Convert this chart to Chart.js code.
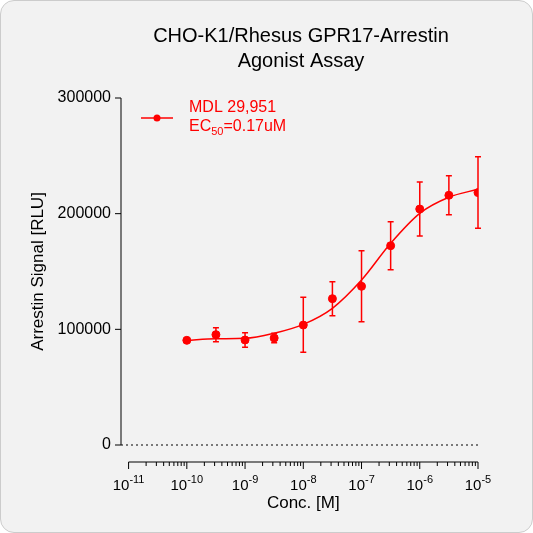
<!DOCTYPE html>
<html><head><meta charset="utf-8">
<script src="https://cdn.jsdelivr.net/npm/chart.js@4/dist/chart.umd.min.js"></script>
<style>
html,body{margin:0;padding:0;background:#fff;}
#wrap{width:531px;height:531px;border:1px solid #ccc;border-radius:14px;background:#f2f2f2;overflow:hidden;}
</style></head><body>
<div id="wrap"><canvas id="chart" width="531" height="531"></canvas></div>
<script>
// log10 concentration (M)
const logConc = [-10, -9.5, -9, -8.5, -8, -7.5, -7, -6.5, -6, -5.5, -5];
const signal = [90500, 95400, 90800, 92500, 103700, 126500, 137200, 172300, 204000, 215900, 218200];
const errHi = [90500, 101400, 97100, 96600, 127700, 141200, 168000, 193100, 227400, 232800, 249300];
const errLo = [90500, 89300, 84500, 88400, 80100, 111800, 106600, 151600, 180700, 199100, 187400];
// fitted curve
const curveX = [-10, -9.5, -9, -8.5, -8, -7.5, -7, -6.5, -6, -5.5, -5];
const curveY = [90500, 91900, 92200, 96600, 104300, 118200, 142600, 174400, 200300, 214200, 221100];
const yTicks = [0, 100000, 200000, 300000];
const xTicks = [-11, -10, -9, -8, -7, -6, -5];
const red = '#ff0000';
const font = '"Liberation Sans", Arial, sans-serif';

const extras = {
  id: 'extras',
  afterDatasetsDraw(chart) {
    const c = chart.ctx, x = chart.scales.x, y = chart.scales.y;
    c.save();
    // error bars
    c.strokeStyle = red; c.lineWidth = 1.5;
    logConc.forEach((v, i) => {
      const px = x.getPixelForValue(v), a = y.getPixelForValue(errHi[i]), b = y.getPixelForValue(errLo[i]);
      if (Math.abs(a - b) < 1) return;
      c.beginPath();
      c.moveTo(px, a); c.lineTo(px, b);
      c.moveTo(px - 3, a); c.lineTo(px + 3, a);
      c.moveTo(px - 3, b); c.lineTo(px + 3, b);
      c.stroke();
    });
    // axes
    c.strokeStyle = '#000'; c.fillStyle = '#000'; c.lineWidth = 1;
    const yl = chart.chartArea.left, y0 = y.getPixelForValue(0), yTop = y.getPixelForValue(300000);
    c.beginPath(); c.moveTo(yl, yTop); c.lineTo(yl, y0); c.stroke();
    c.font = '16px ' + font; c.textAlign = 'right'; c.textBaseline = 'middle';
    yTicks.forEach(t => {
      const py = y.getPixelForValue(t);
      c.beginPath(); c.moveTo(yl - 6, py); c.lineTo(yl, py); c.stroke();
      c.fillText(String(t), yl - 10, py);
    });
    // dotted zero line
    c.setLineDash([2, 3]);
    c.beginPath(); c.moveTo(yl, y0); c.lineTo(chart.chartArea.right, y0); c.stroke();
    c.setLineDash([]);
    // x axis
    const ax = y0 + 17;
    const xl = x.getPixelForValue(-11), xr = x.getPixelForValue(-5);
    c.beginPath(); c.moveTo(xl, ax); c.lineTo(xr, ax); c.stroke();
    c.textBaseline = 'alphabetic'; c.textAlign = 'left';
    xTicks.forEach(t => {
      const px = x.getPixelForValue(t);
      c.beginPath(); c.moveTo(px, ax); c.lineTo(px, ax + 7); c.stroke();
      c.font = '15px ' + font;
      const w1 = c.measureText('10').width;
      c.font = '11px ' + font;
      const e = String(t), w2 = c.measureText(e).width;
      const sx = px - (w1 + w2) / 2;
      c.font = '15px ' + font; c.fillText('10', sx, ax + 28);
      c.font = '11px ' + font; c.fillText(e, sx + w1, ax + 21);
      if (t < -5) for (let k = 2; k <= 9; k++) {
        const mx = x.getPixelForValue(t + Math.log10(k));
        c.beginPath(); c.moveTo(mx, ax); c.lineTo(mx, ax + 4); c.stroke();
      }
    });
    c.textAlign = 'center'; c.textBaseline = 'top';
    c.font = '17px ' + font;
    c.fillText('Conc. [M]', (xl + xr) / 2, ax + 33);
    // y title
    c.save(); c.translate(37, (y0 + yTop) / 2); c.rotate(-Math.PI / 2);
    c.textBaseline = 'middle'; c.fillText('Arrestin Signal [RLU]', 0, 0); c.restore();
    // title
    c.font = '20px ' + font; c.textBaseline = 'middle';
    c.fillText('CHO-K1/Rhesus GPR17-Arrestin', 300, 35);
    c.fillText('Agonist Assay', 300, 60);
    // legend
    c.strokeStyle = red; c.fillStyle = red; c.lineWidth = 1.5;
    c.beginPath(); c.moveTo(140, 117); c.lineTo(172, 117); c.stroke();
    c.beginPath(); c.arc(156, 117, 3.5, 0, Math.PI * 2); c.fill();
    c.font = '16px ' + font; c.textAlign = 'left';
    c.fillText('MDL 29,951', 188, 107);
    c.fillText('EC', 188, 126);
    const we = c.measureText('EC').width;
    c.font = '11px ' + font; c.fillText('50', 188 + we, 131);
    const ws = c.measureText('50').width;
    c.font = '16px ' + font; c.fillText('=0.17uM', 188 + we + ws, 126);
    c.restore();
  }
};

new Chart(document.getElementById('chart'), {
  type: 'scatter',
  data: {
    datasets: [
      { data: logConc.map((v, i) => ({ x: v, y: signal[i] })), backgroundColor: red, borderColor: red, pointRadius: 4 },
      { type: 'line', data: curveX.map((v, i) => ({ x: v, y: curveY[i] })), borderColor: red, borderWidth: 1.5,
        pointRadius: 0, cubicInterpolationMode: 'monotone', fill: false }
    ]
  },
  options: {
    responsive: false, animation: false,
    layout: { padding: { left: 120, right: 54, top: 97, bottom: 87 } },
    plugins: { legend: { display: false }, tooltip: { enabled: false } },
    scales: {
      x: { type: 'linear', min: -11 - 7.6 / 58.4, max: -5, display: false },
      y: { min: 0, max: 300000, display: false }
    }
  },
  plugins: [extras]
});
</script>
</body></html>
